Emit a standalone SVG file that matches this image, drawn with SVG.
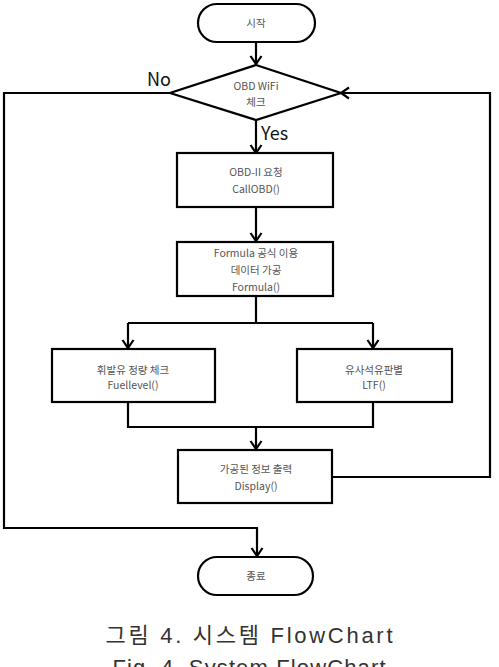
<svg xmlns="http://www.w3.org/2000/svg" width="499" height="667" viewBox="0 0 499 667">
<style>
.shape{fill:#fff;stroke:#000;stroke-width:2.2}
.conn{fill:none;stroke:#000;stroke-width:2.2}
.t{font-family:"Noto Sans CJK KR","Liberation Sans",sans-serif;font-size:10.5px;fill:#555;text-anchor:middle}
.lbl{font-family:"Noto Sans CJK KR","Liberation Sans",sans-serif;font-size:18px;fill:#111}
.cap{font-family:"Liberation Sans","Noto Sans CJK KR",sans-serif;font-size:22px;fill:#333;text-anchor:middle}
</style>
<defs>
<marker id="arr" markerUnits="userSpaceOnUse" markerWidth="14" markerHeight="14" viewBox="0 0 14 14" refX="12" refY="7" orient="auto">
<path d="M4,1.5 L12,7 L4,12.5" fill="none" stroke="#000" stroke-width="2.2"/>
</marker>
</defs>
<g id="connectors">
<path class="conn" d="M256,42 V64" marker-end="url(#arr)"/>
<path class="conn" d="M256,120 V153" marker-end="url(#arr)"/>
<path class="conn" d="M256,207 V241" marker-end="url(#arr)"/>
<path class="conn" d="M256,296 V323"/>
<path class="conn" d="M128,323 H373"/>
<path class="conn" d="M128,323 V348" marker-end="url(#arr)"/>
<path class="conn" d="M373,323 V348" marker-end="url(#arr)"/>
<path class="conn" d="M128,402 V427 H373 V402"/>
<path class="conn" d="M256,427 V449" marker-end="url(#arr)"/>
<path class="conn" d="M332,477 H490 V93 H341" marker-end="url(#arr)"/>
<path class="conn" d="M170,93 H4 V528 H257 V556" marker-end="url(#arr)"/>
<text class="lbl" x="147" y="86">No</text>
<text class="lbl" x="261" y="140">Yes</text>
</g>
<g id="start">
<rect class="shape" x="198" y="4" width="117" height="38" rx="19"/>
<text class="t" x="256" y="27">시작</text>
</g>
<g id="wifi">
<polygon class="shape" points="256,65 341,93 256,120 170,93"/>
<text class="t" x="256" y="90">OBD WiFi</text>
<text class="t" x="256" y="106">체크</text>
</g>
<g id="callobd">
<rect class="shape" x="177" y="153" width="156" height="54"/>
<text class="t" x="256" y="176">OBD-II  요청</text>
<text class="t" x="256" y="193">CallOBD()</text>
</g>
<g id="formula">
<rect class="shape" x="177" y="242" width="156" height="54"/>
<text class="t" x="256" y="257">Formula 공식 이용</text>
<text class="t" x="256" y="274">데이터 가공</text>
<text class="t" x="256" y="291">Formula()</text>
</g>
<g id="fuel">
<rect class="shape" x="52" y="349" width="163" height="53"/>
<text class="t" x="133" y="374">휘발유 정량 체크</text>
<text class="t" x="133" y="389">Fuellevel()</text>
</g>
<g id="ltf">
<rect class="shape" x="297" y="349" width="155" height="53"/>
<text class="t" x="374" y="374">유사석유판별</text>
<text class="t" x="374" y="389">LTF()</text>
</g>
<g id="display">
<rect class="shape" x="178" y="450" width="154" height="53"/>
<text class="t" x="256" y="473">가공된 정보 출력</text>
<text class="t" x="256" y="490">Display()</text>
</g>
<g id="end">
<rect class="shape" x="198" y="557" width="115" height="38" rx="19"/>
<text class="t" x="256" y="580">종료</text>
</g>
<text class="cap" x="249" y="643" textLength="287" lengthAdjust="spacing">그림 4. 시스템 FlowChart</text>
<text class="cap" x="249" y="675" textLength="273" lengthAdjust="spacing">Fig. 4. System FlowChart</text>
</svg>
